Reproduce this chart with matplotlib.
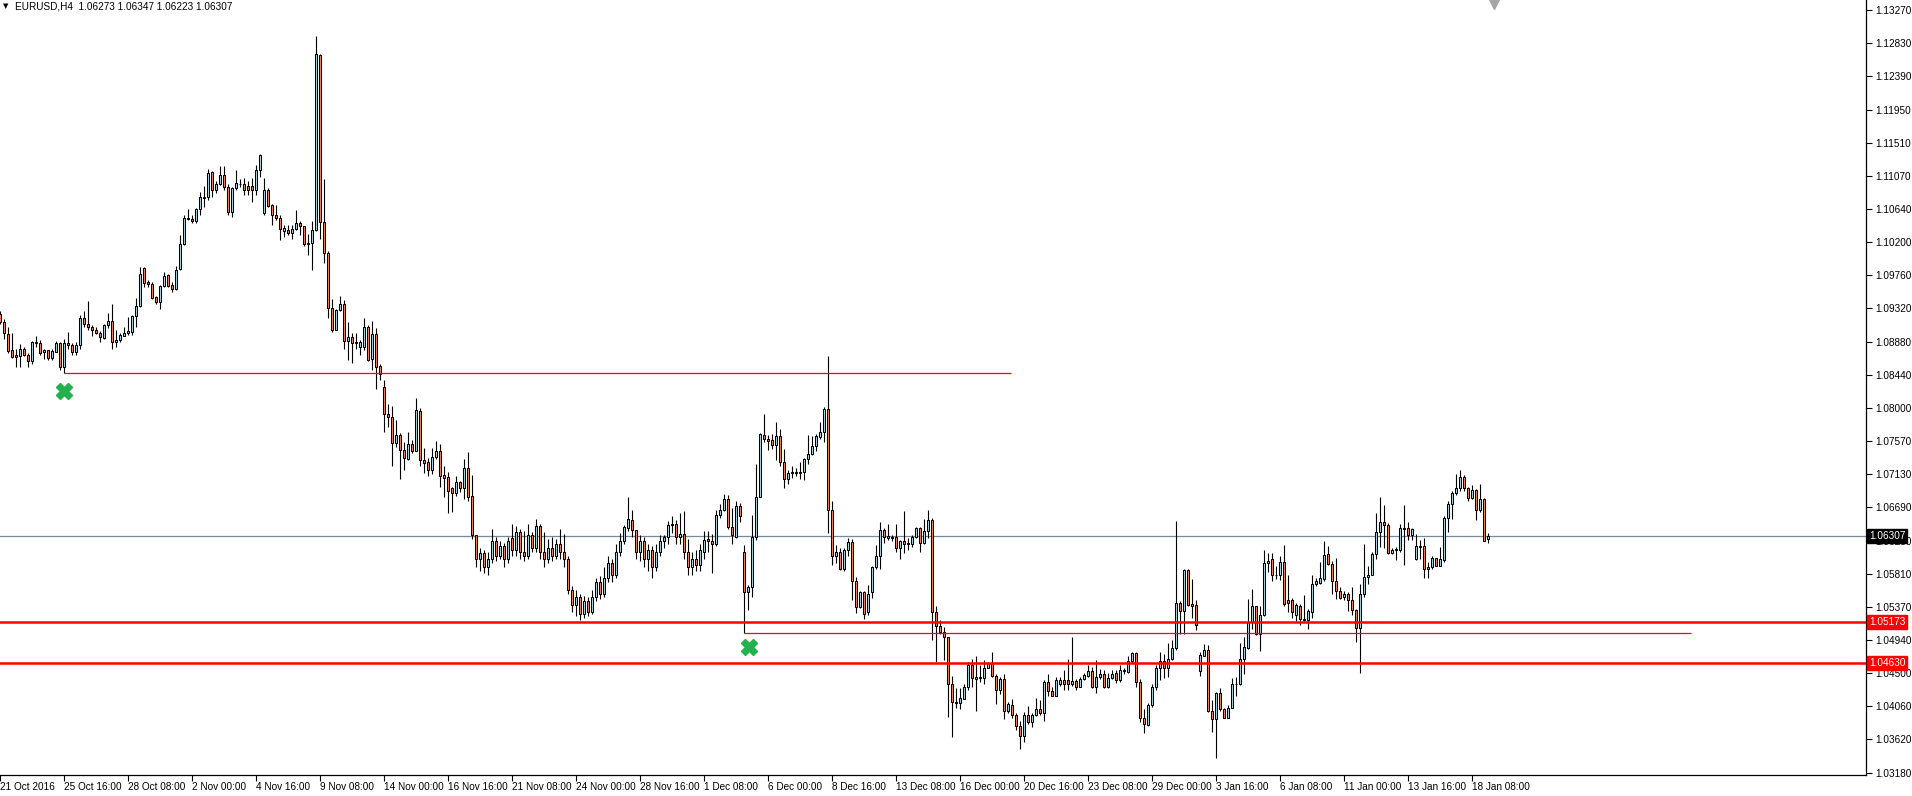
import matplotlib
matplotlib.use("Agg")
import matplotlib.pyplot as plt
import numpy as np

# EURUSD H4 candles, prices in pips (x 1e-4)
opens = [
    10925, 10914, 10898, 10877, 10870, 10869, 10878, 10870, 10862, 10887,
    10886, 10874, 10877, 10867, 10875, 10886, 10854, 10886, 10883, 10874,
    10884, 10919, 10912, 10907, 10903, 10900, 10893, 10910, 10915, 10887,
    10890, 10896, 10899, 10901, 10922, 10935, 10986, 10967, 10964, 10947,
    10940, 10962, 10976, 10963, 10958, 10984, 11017, 11050, 11050, 11047,
    11064, 11078, 11079, 11112, 11089, 11097, 11109, 11092, 11060, 11091,
    11096, 11097, 11094, 11094, 11089, 11115, 11058, 11089, 11069, 11055,
    11052, 11035, 11036, 11032, 11037, 11045, 11041, 11019, 11019, 11036,
    11267, 11046, 11005, 10933, 10904, 10930, 10938, 10889, 10894, 10887,
    10881, 10881, 10907, 10865, 10898, 10856, 10828, 10793, 10788, 10754,
    10765, 10745, 10733, 10753, 10744, 10796, 10732, 10729, 10719, 10735,
    10743, 10712, 10709, 10694, 10688, 10703, 10695, 10721, 10684, 10632,
    10600, 10608, 10590, 10600, 10625, 10605, 10618, 10600, 10629, 10612,
    10636, 10610, 10605, 10632, 10615, 10644, 10610, 10600, 10615, 10605,
    10620, 10610, 10600, 10560, 10540, 10550, 10528, 10545, 10530, 10550,
    10570, 10555, 10575, 10595, 10580, 10610, 10625, 10642, 10652, 10639,
    10610, 10625, 10600, 10612, 10590, 10610, 10625, 10630, 10647, 10647,
    10630, 10634, 10610, 10590, 10600, 10593, 10610, 10627, 10625, 10621,
    10659, 10666, 10680, 10643, 10630, 10671, 10610, 10557, 10563, 10630,
    10683, 10765, 10760, 10758, 10751, 10763, 10729, 10707, 10714, 10715,
    10715, 10716, 10733, 10740, 10750, 10762, 10769, 10799, 10665, 10605,
    10610, 10587, 10613, 10623, 10572, 10537, 10557, 10530, 10557, 10590,
    10605, 10639, 10629, 10630, 10630, 10615, 10624, 10622, 10621, 10630,
    10641, 10622, 10638, 10652, 10530, 10512, 10504, 10497, 10435, 10412,
    10410, 10416, 10431, 10461, 10442, 10443, 10443, 10457, 10463, 10446,
    10427, 10442, 10400, 10408, 10395, 10380, 10367, 10395, 10385, 10394,
    10402, 10397, 10438, 10426, 10420, 10435, 10441, 10441, 10436, 10439,
    10432, 10442, 10446, 10453, 10432, 10444, 10449, 10431, 10443, 10450,
    10440, 10452, 10451, 10466, 10476, 10438, 10391, 10381, 10408, 10431,
    10457, 10466, 10457, 10468, 10483, 10542, 10532, 10586, 10541, 10540,
    10452, 10473, 10480, 10400, 10389, 10424, 10402, 10391, 10404, 10435,
    10435, 10469, 10483, 10517, 10538, 10502, 10527, 10595, 10600, 10580,
    10579, 10597, 10547, 10547, 10527, 10539, 10521, 10520, 10531, 10568,
    10569, 10574, 10607, 10594, 10571, 10558, 10550, 10555, 10547, 10533,
    10510, 10555, 10577, 10580, 10607, 10637, 10649, 10645, 10608, 10614,
    10613, 10641, 10641, 10633, 10600, 10618, 10618, 10587, 10590, 10602,
    10591, 10599, 10655, 10674, 10688, 10695, 10709, 10695, 10681, 10692,
    10665, 10680, 10627.3,
]
highs = [
    10928, 10918, 10907, 10900, 10878, 10885, 10881, 10873, 10889, 10895,
    10890, 10879, 10877, 10878, 10889, 10888, 10892, 10901, 10886, 10888,
    10923, 10929, 10942, 10910, 10907, 10902, 10911, 10926, 10938, 10903,
    10899, 10908, 10921, 10923, 10946, 10987, 10987, 10970, 10967, 10949,
    10963, 10980, 10977, 10967, 10988, 11029, 11056, 11063, 11056, 11065,
    11086, 11094, 11117, 11114, 11100, 11120, 11120, 11097, 11093, 11115,
    11103, 11104, 11100, 11104, 11122, 11136, 11104, 11091, 11070, 11069,
    11055, 11042, 11042, 11042, 11062, 11047, 11041, 11031, 11047, 11292,
    11269, 11103, 11008, 10944, 10931, 10948, 10943, 10914, 10899, 10899,
    10890, 10919, 10910, 10915, 10906, 10858, 10837, 10806, 10803, 10785,
    10767, 10756, 10768, 10758, 10813, 10800, 10748, 10734, 10747, 10757,
    10753, 10723, 10716, 10696, 10711, 10704, 10733, 10742, 10712, 10633,
    10615, 10612, 10610, 10640, 10630, 10625, 10622, 10630, 10647, 10644,
    10640, 10638, 10647, 10636, 10654, 10647, 10636, 10627, 10630, 10627,
    10640, 10634, 10605, 10565, 10560, 10555, 10552, 10550, 10560, 10575,
    10578, 10590, 10605, 10600, 10620, 10635, 10645, 10682, 10666, 10639,
    10632, 10630, 10620, 10618, 10620, 10632, 10632, 10651, 10658, 10652,
    10661, 10664, 10627, 10610, 10612, 10620, 10638, 10638, 10634, 10665,
    10674, 10687, 10685, 10668, 10677, 10675, 10619, 10566, 10659, 10726,
    10767, 10793, 10765, 10766, 10782, 10773, 10746, 10718, 10724, 10721,
    10729, 10734, 10765, 10763, 10766, 10782, 10802, 10869, 10677, 10619,
    10615, 10615, 10628, 10627, 10577, 10558, 10558, 10566, 10592, 10619,
    10649, 10641, 10647, 10632, 10647, 10626, 10664, 10628, 10632, 10643,
    10643, 10653, 10666, 10655, 10538, 10520, 10511, 10498, 10446, 10430,
    10430, 10436, 10465, 10469, 10472, 10461, 10467, 10465, 10478, 10449,
    10445, 10448, 10411, 10416, 10397, 10387, 10398, 10406, 10397, 10417,
    10414, 10441, 10449, 10431, 10445, 10445, 10454, 10468, 10497, 10442,
    10444, 10450, 10460, 10458, 10467, 10455, 10454, 10450, 10454, 10454,
    10460, 10456, 10472, 10478, 10478, 10442, 10402, 10410, 10435, 10461,
    10478, 10475, 10490, 10494, 10651, 10545, 10588, 10587, 10574, 10546,
    10478, 10488, 10487, 10414, 10425, 10430, 10404, 10408, 10443, 10445,
    10490, 10497, 10548, 10561, 10538, 10538, 10613, 10608, 10609, 10591,
    10605, 10619, 10579, 10549, 10542, 10541, 10553, 10534, 10580, 10576,
    10597, 10625, 10618, 10598, 10602, 10563, 10558, 10557, 10564, 10534,
    10567, 10620, 10591, 10610, 10661, 10682, 10672, 10648, 10615, 10617,
    10647, 10672, 10650, 10642, 10634, 10626, 10628, 10597, 10604, 10602,
    10617, 10657, 10677, 10690, 10713, 10718, 10712, 10696, 10699, 10693,
    10700, 10681, 10634.7,
]
lows = [
    10912, 10891, 10873, 10867, 10855, 10855, 10869, 10855, 10859, 10881,
    10871, 10865, 10864, 10864, 10874, 10851, 10847, 10879, 10870, 10870,
    10879, 10908, 10903, 10895, 10898, 10887, 10892, 10906, 10878, 10881,
    10888, 10895, 10897, 10897, 10908, 10934, 10961, 10961, 10944, 10938,
    10931, 10961, 10961, 10954, 10957, 10983, 11016, 11049, 11045, 11045,
    11056, 11066, 11075, 11079, 11085, 11095, 11088, 11055, 11053, 11089,
    11093, 11082, 11082, 11073, 11082, 11106, 11056, 11066, 11042, 11049,
    11022, 11026, 11029, 11024, 11036, 11029, 11014, 11003, 10983, 11035,
    11024, 10992, 10919, 10901, 10903, 10928, 10879, 10864, 10860, 10879,
    10871, 10877, 10863, 10851, 10826, 10837, 10769, 10775, 10724, 10749,
    10706, 10719, 10732, 10741, 10744, 10724, 10715, 10710, 10713, 10733,
    10696, 10683, 10662, 10663, 10684, 10689, 10680, 10678, 10627, 10590,
    10585, 10582, 10580, 10595, 10598, 10600, 10590, 10595, 10605, 10605,
    10600, 10598, 10600, 10610, 10610, 10600, 10590, 10595, 10598, 10600,
    10600, 10590, 10555, 10530, 10525, 10520, 10522, 10525, 10528, 10545,
    10548, 10550, 10570, 10570, 10575, 10605, 10620, 10638, 10630, 10600,
    10598, 10590, 10585, 10575, 10585, 10605, 10615, 10620, 10635, 10620,
    10620, 10600, 10580, 10580, 10585, 10585, 10600, 10610, 10582, 10618,
    10655, 10664, 10640, 10621, 10628, 10650, 10503, 10533, 10551, 10626,
    10682, 10755, 10745, 10746, 10732, 10723, 10695, 10700, 10708, 10711,
    10707, 10705, 10726, 10738, 10743, 10759, 10755, 10635, 10593, 10596,
    10586, 10585, 10604, 10546, 10529, 10536, 10521, 10527, 10549, 10588,
    10588, 10622, 10626, 10625, 10610, 10600, 10609, 10613, 10617, 10628,
    10610, 10620, 10628, 10493, 10465, 10502, 10467, 10392, 10365, 10403,
    10402, 10416, 10427, 10432, 10399, 10438, 10435, 10456, 10445, 10409,
    10422, 10389, 10397, 10390, 10375, 10350, 10358, 10383, 10379, 10393,
    10394, 10386, 10420, 10419, 10419, 10433, 10428, 10427, 10433, 10427,
    10431, 10440, 10445, 10430, 10424, 10442, 10430, 10430, 10442, 10437,
    10438, 10449, 10450, 10463, 10432, 10385, 10370, 10380, 10405, 10427,
    10440, 10443, 10444, 10467, 10480, 10502, 10502, 10538, 10522, 10507,
    10446, 10472, 10398, 10372, 10338, 10399, 10390, 10390, 10403, 10420,
    10434, 10449, 10481, 10508, 10500, 10479, 10525, 10584, 10572, 10574,
    10573, 10539, 10530, 10522, 10519, 10514, 10518, 10508, 10522, 10565,
    10568, 10572, 10593, 10555, 10548, 10548, 10546, 10532, 10527, 10491,
    10450, 10551, 10568, 10579, 10601, 10616, 10615, 10607, 10607, 10599,
    10610, 10593, 10626, 10626, 10599, 10601, 10576, 10576, 10588, 10591,
    10591, 10597, 10637, 10654, 10685, 10691, 10690, 10677, 10680, 10652,
    10663, 10624, 10622.3,
]
closes = [
    10914, 10899, 10876, 10868, 10868, 10879, 10870, 10862, 10888, 10886,
    10873, 10877, 10867, 10876, 10886, 10854, 10886, 10883, 10874, 10884,
    10919, 10912, 10907, 10903, 10900, 10894, 10910, 10915, 10887, 10890,
    10897, 10900, 10902, 10922, 10935, 10978, 10965, 10964, 10946, 10940,
    10962, 10975, 10962, 10958, 10983, 11017, 11051, 11052, 11047, 11064,
    11079, 11080, 11111, 11089, 11097, 11109, 11092, 11060, 11091, 11098,
    11097, 11089, 11089, 11089, 11115, 11135, 11088, 11068, 11055, 11052,
    11037, 11038, 11032, 11037, 11045, 11041, 11017, 11017, 11036, 11268,
    11046, 11005, 10933, 10904, 10930, 10938, 10889, 10894, 10886, 10886,
    10887, 10907, 10864, 10898, 10855, 10845, 10793, 10788, 10754, 10765,
    10745, 10734, 10753, 10744, 10798, 10732, 10728, 10719, 10735, 10743,
    10711, 10708, 10691, 10688, 10703, 10695, 10721, 10683, 10633, 10600,
    10608, 10590, 10600, 10625, 10605, 10618, 10600, 10625, 10612, 10636,
    10610, 10605, 10632, 10615, 10644, 10610, 10600, 10615, 10605, 10620,
    10610, 10600, 10560, 10540, 10550, 10528, 10545, 10530, 10550, 10570,
    10555, 10575, 10595, 10580, 10610, 10625, 10643, 10653, 10639, 10610,
    10625, 10600, 10612, 10590, 10610, 10625, 10630, 10646, 10646, 10630,
    10634, 10610, 10590, 10600, 10593, 10613, 10626, 10625, 10621, 10659,
    10666, 10680, 10643, 10632, 10671, 10658, 10557, 10563, 10630, 10683,
    10766, 10760, 10757, 10751, 10763, 10729, 10707, 10714, 10716, 10716,
    10716, 10733, 10740, 10750, 10763, 10769, 10799, 10665, 10605, 10610,
    10587, 10613, 10623, 10572, 10537, 10557, 10528, 10555, 10590, 10605,
    10639, 10630, 10631, 10628, 10615, 10625, 10621, 10621, 10630, 10641,
    10622, 10638, 10652, 10530, 10512, 10504, 10497, 10435, 10411, 10410,
    10417, 10431, 10461, 10443, 10444, 10445, 10457, 10463, 10446, 10427,
    10442, 10400, 10409, 10395, 10380, 10367, 10395, 10385, 10394, 10402,
    10397, 10438, 10426, 10420, 10441, 10441, 10435, 10436, 10439, 10431,
    10442, 10447, 10453, 10432, 10444, 10449, 10431, 10443, 10448, 10440,
    10454, 10454, 10466, 10476, 10438, 10391, 10382, 10408, 10431, 10457,
    10466, 10457, 10469, 10483, 10542, 10532, 10586, 10540, 10539, 10514,
    10474, 10480, 10399, 10389, 10424, 10402, 10391, 10404, 10435, 10436,
    10469, 10484, 10517, 10538, 10502, 10527, 10595, 10598, 10580, 10579,
    10597, 10541, 10542, 10530, 10540, 10521, 10520, 10532, 10568, 10571,
    10575, 10606, 10594, 10571, 10558, 10549, 10555, 10546, 10533, 10510,
    10555, 10577, 10580, 10607, 10637, 10649, 10645, 10608, 10613, 10613,
    10641, 10640, 10633, 10640, 10618, 10617, 10587, 10590, 10602, 10592,
    10601, 10655, 10674, 10688, 10695, 10709, 10695, 10681, 10692, 10665,
    10680, 10625, 10630.7,
]

# time axis labels, one every 16 bars
date_labels = ["21 Oct 2016", "25 Oct 16:00", "28 Oct 08:00", "2 Nov 00:00",
               "4 Nov 16:00", "9 Nov 08:00", "14 Nov 00:00", "16 Nov 16:00",
               "21 Nov 08:00", "24 Nov 00:00", "28 Nov 16:00", "1 Dec 08:00",
               "6 Dec 00:00", "8 Dec 16:00", "13 Dec 08:00", "16 Dec 00:00",
               "20 Dec 16:00", "23 Dec 08:00", "29 Dec 00:00", "3 Jan 16:00",
               "6 Jan 08:00", "11 Jan 00:00", "13 Jan 16:00", "18 Jan 08:00"]

price_ticks = [1.13270, 1.12830, 1.12390, 1.11950, 1.11510, 1.11070, 1.10640,
               1.10200, 1.09760, 1.09320, 1.08880, 1.08440, 1.08000, 1.07570,
               1.07130, 1.06690, 1.06250, 1.05810, 1.05370, 1.04940, 1.04500,
               1.04060, 1.03620, 1.03180]

# drawn objects
bid_price = 1.06307
support_levels = [1.05173, 1.04630]
trend_levels = [1.08466, 1.05033]
trend_start = [16, 186]
trend_end = [252.7, 422.7]
cross_bars = [16, 187.2]
cross_prices = [1.08229, 1.04843]

o = np.array(opens) / 10000
h = np.array(highs) / 10000
l = np.array(lows) / 10000
c = np.array(closes) / 10000
x = np.arange(len(c))
up = c >= o

bull = "#add8e6"
bear = "#f4875f"

W, H = 1912, 796
fig = plt.figure(figsize=(W / 100, H / 100), dpi=100)
ax = fig.add_axes([0, 21 / H, 1866 / W, 775 / H])
ax.set_xlim(-0.075, 466.4)
ax.set_ylim(1.03150, 1.13399)

# wicks
ax.vlines(x, l, h, color="black", linewidth=0.8, zorder=2)
# bodies
bottom = np.minimum(o, c)
height = np.maximum(np.abs(c - o), 0.00002)
ax.bar(x[up], height[up], bottom=bottom[up], width=0.5, color=bull,
       edgecolor="black", linewidth=0.75, zorder=3)
ax.bar(x[~up], height[~up], bottom=bottom[~up], width=0.5, color=bear,
       edgecolor="black", linewidth=0.75, zorder=3)

# horizontal lines
ax.axhline(bid_price, color="#778899", linewidth=0.9, zorder=1)
for lv in support_levels:
    ax.axhline(lv, color="#ff0000", linewidth=1.8, zorder=4)
for lv, x0, x1 in zip(trend_levels, trend_start, trend_end):
    ax.hlines(lv, x0, x1, color="#ff0000", linewidth=0.9, zorder=4)

ax.plot(cross_bars, cross_prices, linestyle="none", marker="X", markersize=11,
        color="#22b14c", markeredgecolor="#22b14c", zorder=5)

# chart-shift marker at the top
ax.plot([373.4], [0.995], transform=ax.get_xaxis_transform(), marker="v",
        markersize=7, color="#a6a6a6", clip_on=False, zorder=6)

# axes styling
for side in ["top", "left"]:
    ax.spines[side].set_visible(False)
ax.spines["right"].set_color("black")
ax.spines["bottom"].set_color("black")
ax.spines["right"].set_linewidth(0.9)
ax.spines["bottom"].set_linewidth(0.9)

ax.yaxis.tick_right()
ax.set_yticks(price_ticks)
ax.set_yticklabels(["%.5f" % p for p in price_ticks])
ax.tick_params(axis="y", direction="out", length=4, width=0.8, pad=3,
               labelsize=7.2, colors="black")

ax.set_xticks(np.arange(len(date_labels)) * 16)
ax.set_xticklabels(date_labels)
ax.tick_params(axis="x", direction="out", length=4, width=0.8, pad=1,
               labelsize=7.2)
for lab in ax.get_xticklabels():
    lab.set_horizontalalignment("left")
for lab in ax.get_xticklabels() + ax.get_yticklabels():
    lab.set_fontfamily("Liberation Sans")

# price boxes on the axis (they sit over the tick label below them)
ytr = ax.get_yaxis_transform()
ax.text(1.0015, bid_price, "%.5f" % bid_price, transform=ytr, fontsize=7.2,
        family="Liberation Sans", color="white", va="center", ha="left",
        bbox=dict(boxstyle="square,pad=0.18", fc="black", ec="black"),
        clip_on=False, zorder=10)
for lv in support_levels:
    ax.text(1.0015, lv, "%.5f" % lv, transform=ytr, fontsize=7.2,
            family="Liberation Sans", color="white", va="center", ha="left",
            bbox=dict(boxstyle="square,pad=0.18", fc="#ff0000", ec="#ff0000"),
            clip_on=False, zorder=10)

# header
fig.text(3 / W, 1 - 6 / H, "\u25bc", fontsize=5, va="center", ha="left",
         family="DejaVu Sans")
fig.text(15 / W, 1 - 6.5 / H,
         "EURUSD,H4  %.5f %.5f %.5f %.5f" % (o[-1], h[-1], l[-1], c[-1]),
         fontsize=7.2, va="center", ha="left", family="Liberation Sans")

fig.savefig("out.png", dpi=100)
